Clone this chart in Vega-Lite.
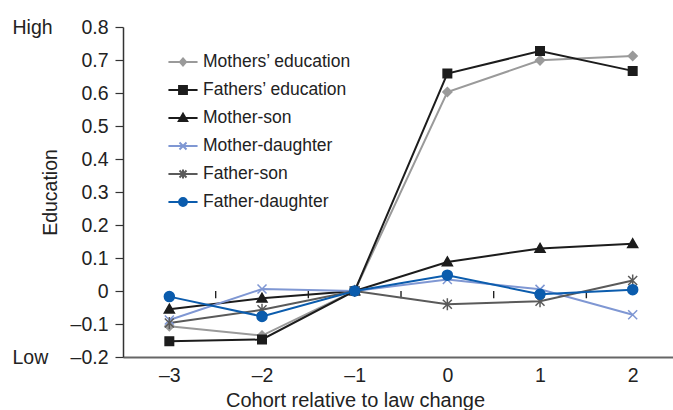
{
  "$schema": "https://vega.github.io/schema/vega-lite/v6.json",
  "autosize": "none",
  "width": 550,
  "height": 330,
  "padding": {"left": 123, "top": 27, "right": 0, "bottom": 53},
  "background": "white",
  "config": {
    "font": "Liberation Sans",
    "view": {"stroke": null},
    "axis": {"labelFont": "Liberation Sans", "titleFont": "Liberation Sans", "labelColor": "#222222", "titleColor": "#222222", "titleFontWeight": "normal", "grid": false},
    "legend": {"labelFont": "Liberation Sans"}
  },
  "datasets": {
    "series": [
      {"series": "Mothers’ education", "cohort": -3, "value": -0.107},
      {"series": "Mothers’ education", "cohort": -2, "value": -0.135},
      {"series": "Mothers’ education", "cohort": -1, "value": 0},
      {"series": "Mothers’ education", "cohort": 0, "value": 0.603},
      {"series": "Mothers’ education", "cohort": 1, "value": 0.699},
      {"series": "Mothers’ education", "cohort": 2, "value": 0.712},
      {"series": "Fathers’ education", "cohort": -3, "value": -0.152},
      {"series": "Fathers’ education", "cohort": -2, "value": -0.147},
      {"series": "Fathers’ education", "cohort": -1, "value": 0},
      {"series": "Fathers’ education", "cohort": 0, "value": 0.659},
      {"series": "Fathers’ education", "cohort": 1, "value": 0.727},
      {"series": "Fathers’ education", "cohort": 2, "value": 0.667},
      {"series": "Mother-son", "cohort": -3, "value": -0.055},
      {"series": "Mother-son", "cohort": -2, "value": -0.022},
      {"series": "Mother-son", "cohort": -1, "value": 0},
      {"series": "Mother-son", "cohort": 0, "value": 0.088},
      {"series": "Mother-son", "cohort": 1, "value": 0.129},
      {"series": "Mother-son", "cohort": 2, "value": 0.143},
      {"series": "Mother-daughter", "cohort": -3, "value": -0.088},
      {"series": "Mother-daughter", "cohort": -2, "value": 0.006},
      {"series": "Mother-daughter", "cohort": -1, "value": 0},
      {"series": "Mother-daughter", "cohort": 0, "value": 0.035},
      {"series": "Mother-daughter", "cohort": 1, "value": 0.005},
      {"series": "Mother-daughter", "cohort": 2, "value": -0.072},
      {"series": "Father-son", "cohort": -3, "value": -0.097},
      {"series": "Father-son", "cohort": -2, "value": -0.057},
      {"series": "Father-son", "cohort": -1, "value": 0},
      {"series": "Father-son", "cohort": 0, "value": -0.04},
      {"series": "Father-son", "cohort": 1, "value": -0.031},
      {"series": "Father-son", "cohort": 2, "value": 0.032},
      {"series": "Father-daughter", "cohort": -3, "value": -0.017},
      {"series": "Father-daughter", "cohort": -2, "value": -0.077},
      {"series": "Father-daughter", "cohort": -1, "value": 0},
      {"series": "Father-daughter", "cohort": 0, "value": 0.048},
      {"series": "Father-daughter", "cohort": 1, "value": -0.01},
      {"series": "Father-daughter", "cohort": 2, "value": 0.004}
    ],
    "ticks": [
      {"cohort": -2.5}, {"cohort": -1.5}, {"cohort": -0.5}, {"cohort": 0.5}, {"cohort": 1.5}
    ]
  },
  "encoding": {
    "x": {
      "field": "cohort",
      "type": "quantitative",
      "scale": {"domain": [-3.5, 2.435], "nice": false, "zero": false},
      "axis": {
        "values": [-3, -2, -1, 0, 1, 2],
        "labelExpr": "datum.value < 0 ? '–' + format(-datum.value, 'd') : format(datum.value, 'd')",
        "ticks": false,
        "tickSize": 0,
        "domainColor": "#666666",
        "domainWidth": 2,
        "labelPadding": 9,
        "labelFontSize": 19.5,
        "title": "Cohort relative to law change",
        "titleFontSize": 20,
        "titleX": 232,
        "titleY": 43,
        "titleAlign": "center",
        "titleBaseline": "middle"
      }
    }
  },
  "layer": [
    {
      "mark": {"type": "rule", "color": "#111111", "strokeWidth": 1.2},
      "encoding": {
        "x": {"datum": -3.5, "type": "quantitative"},
        "x2": {"datum": 2.435},
        "y": {"datum": 0, "type": "quantitative", "axis": null}
      }
    },
    {
      "data": {"name": "ticks"},
      "mark": {"type": "rule", "color": "#222222", "strokeWidth": 1.4},
      "encoding": {
        "y": {"datum": 0, "type": "quantitative", "axis": null},
        "y2": {"datum": -0.022}
      }
    },
    {
      "data": {"name": "series"},
      "mark": {"type": "line", "strokeWidth": 2},
      "encoding": {
        "y": {
          "field": "value",
          "type": "quantitative",
          "scale": {"domain": [-0.2, 0.8], "nice": false, "zero": false},
          "axis": {
            "values": [-0.2, -0.1, 0, 0.1, 0.2, 0.3, 0.4, 0.5, 0.6, 0.7, 0.8],
            "labelExpr": "datum.value == 0 ? '0' : (datum.value < 0 ? '–' + format(-datum.value, '.1f') : format(datum.value, '.1f'))",
            "domainColor": "#333333",
            "domainWidth": 1.5,
            "tickColor": "#333333",
            "tickWidth": 1.2,
            "tickSize": 8,
            "labelPadding": 7,
            "labelFontSize": 19.5,
            "title": "Education",
            "titleFontSize": 19.5,
            "titleAngle": -90,
            "titleX": -73,
            "titleY": 165,
            "titleAlign": "center",
            "titleBaseline": "middle"
          }
        },
        "color": {
          "field": "series",
          "type": "nominal",
          "scale": {
            "domain": ["Mothers’ education", "Fathers’ education", "Mother-son", "Mother-daughter", "Father-son", "Father-daughter"],
            "range": ["#9a9a9a", "#1c1c1c", "#1c1c1c", "#7f97d3", "#5a5a5a", "#0b5cad"]
          },
          "legend": null
        },
        "order": {"field": "cohort", "type": "quantitative"}
      }
    },
    {
      "data": {"name": "series"},
      "mark": {"type": "point", "filled": true, "size": 100, "strokeWidth": 1.5, "opacity": 1},
      "encoding": {
        "y": {"field": "value", "type": "quantitative", "axis": null},
        "color": {
          "field": "series",
          "type": "nominal",
          "scale": {
            "domain": ["Mothers’ education", "Fathers’ education", "Mother-son", "Mother-daughter", "Father-son", "Father-daughter"],
            "range": ["#9a9a9a", "#1c1c1c", "#1c1c1c", "#7f97d3", "#5a5a5a", "#0b5cad"]
          },
          "legend": null
        },
        "stroke": {
          "field": "series",
          "type": "nominal",
          "scale": {
            "domain": ["Mothers’ education", "Fathers’ education", "Mother-son", "Mother-daughter", "Father-son", "Father-daughter"],
            "range": ["#9a9a9a", "#1c1c1c", "#1c1c1c", "#7f97d3", "#5a5a5a", "#0b5cad"]
          },
          "legend": null
        },
        "shape": {
          "field": "series",
          "type": "nominal",
          "scale": {
            "domain": ["Mothers’ education", "Fathers’ education", "Mother-son", "Mother-daughter", "Father-son", "Father-daughter"],
            "range": [
              "M0,-0.9L0.9,0L0,0.9L-0.9,0Z",
              "M-0.85,-0.85H0.85V0.85H-0.85Z",
              "M0,-1L1,0.75H-1Z",
              "M-0.9,-0.9L0.9,0.9M-0.9,0.9L0.9,-0.9",
              "M-0.9,-0.9L0.9,0.9M-0.9,0.9L0.9,-0.9M0,-1.2V1.2",
              "M-1,0A1,1,0,1,0,1,0A1,1,0,1,0,-1,0Z"
            ]
          },
          "legend": null
        }
      }
    },
    {
      "data": {"name": "series"},
      "transform": [{"filter": "false"}],
      "mark": {"type": "point", "filled": true, "strokeWidth": 2},
      "encoding": {
        "y": {
          "field": "value",
          "type": "quantitative",
          "axis": {
            "orient": "left",
            "values": [-0.2, 0.8],
            "labelExpr": "datum.value > 0.5 ? 'High' : 'Low'",
            "domain": false,
            "ticks": false,
            "tickSize": 0,
            "labelAlign": "left",
            "labelPadding": 111,
            "labelFontSize": 19.5,
            "title": null
          }
        },
        "color": {
          "field": "series",
          "type": "nominal",
          "scale": {
            "domain": ["Mothers’ education", "Fathers’ education", "Mother-son", "Mother-daughter", "Father-son", "Father-daughter"],
            "range": ["#9a9a9a", "#1c1c1c", "#1c1c1c", "#7f97d3", "#5a5a5a", "#0b5cad"]
          },
          "legend": {
            "title": null, "orient": "none", "legendX": 45, "legendY": 20, "padding": 0, "rowPadding": 4,
            "symbolSize": 784, "symbolStrokeWidth": 2, "symbolOpacity": 1, "labelOffset": 5,
            "labelFontSize": 17.5, "labelColor": "#222222", "labelLimit": 300
          }
        },
        "stroke": {
          "field": "series",
          "type": "nominal",
          "scale": {
            "domain": ["Mothers’ education", "Fathers’ education", "Mother-son", "Mother-daughter", "Father-son", "Father-daughter"],
            "range": ["#9a9a9a", "#1c1c1c", "#1c1c1c", "#7f97d3", "#5a5a5a", "#0b5cad"]
          },
          "legend": {
            "title": null, "orient": "none", "legendX": 45, "legendY": 20, "padding": 0, "rowPadding": 4,
            "symbolSize": 784, "symbolStrokeWidth": 2, "symbolOpacity": 1, "labelOffset": 5,
            "labelFontSize": 17.5, "labelColor": "#222222", "labelLimit": 300
          }
        },
        "shape": {
          "field": "series",
          "type": "nominal",
          "scale": {
            "domain": ["Mothers’ education", "Fathers’ education", "Mother-son", "Mother-daughter", "Father-son", "Father-daughter"],
            "range": [
              "M-1.04,0H1.04M0,-0.25L0.22,0L0,0.25L-0.22,0Z",
              "M-1.04,0H1.04M-0.28,-0.28H0.28V0.28H-0.28Z",
              "M-1.04,0H1.04M0,-0.3L0.3,0.22H-0.3Z",
              "M-1.04,0H1.04M-0.25,-0.25L0.25,0.25M-0.25,0.25L0.25,-0.25",
              "M-1.04,0H1.04M-0.25,-0.25L0.25,0.25M-0.25,0.25L0.25,-0.25M0,-0.32V0.32",
              "M-1.04,0H1.04M-0.28,0A0.28,0.28,0,1,0,0.28,0A0.28,0.28,0,1,0,-0.28,0Z"
            ]
          },
          "legend": {
            "title": null, "orient": "none", "legendX": 45, "legendY": 20, "padding": 0, "rowPadding": 4,
            "symbolSize": 784, "symbolStrokeWidth": 2, "symbolOpacity": 1, "labelOffset": 5,
            "labelFontSize": 17.5, "labelColor": "#222222", "labelLimit": 300
          }
        }
      }
    }
  ],
  "resolve": {
    "scale": {"shape": "independent", "color": "independent", "stroke": "independent"},
    "axis": {"y": "independent"}
  }
}
